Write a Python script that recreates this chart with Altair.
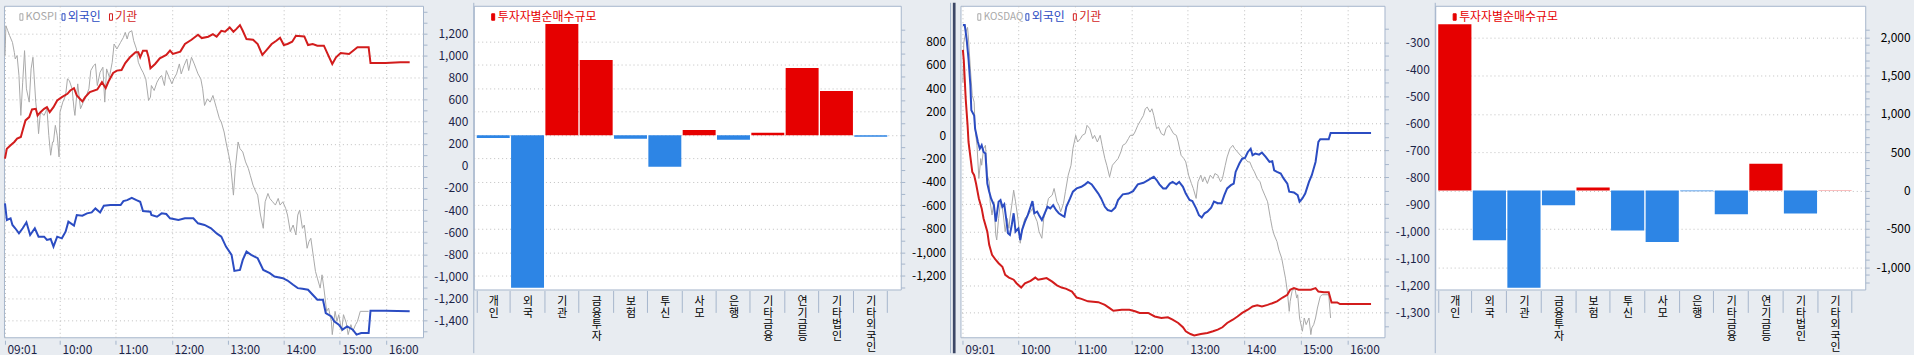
import json
import altair as alt
import pandas as pd

FONT = "Noto Sans CJK KR, DejaVu Sans, sans-serif"
BG = "#E8ECF1"
BORDER = "#A5B5CC"
GRID = "#BEBEBE"
NAVY = "#1C2448"
LINE_RED = "#D21C1C"
LINE_BLUE = "#2B4CC2"
LINE_GREY = "#A8A8A8"
BAR_RED = "#E60000"
BAR_BLUE = "#2D85E5"
DIVIDER = "#3C4766"

# ---------------- data ----------------
# minutes elapsed since 09:01 (compressed after-hours section)
time_tick_values = [0, 59, 119, 179, 239, 299, 359, 409]
time_tick_labels = ["09:01", "10:00", "11:00", "12:00", "13:00", "14:00", "15:00", "16:00"]

kospi_index = [(0,2526.8),(1,2528.6),(3,2528.3),(5,2528.0),(8,2527.6),(10,2527.0),(11,2526.6),(13,2526.8),(15,2525.6),(17,2523.2),(19,2525.2),(21,2527.1),(23,2524.8),(26,2524.0),(28,2526.0),(30,2526.7),(33,2524.0),(35,2523.0),(36,2522.1),(38,2523.4),(42,2523.2),(45,2523.6),(47,2522.0),(49,2520.8),(51,2521.6),(52,2521.6),(54,2522.6),(56,2522.0),(58,2520.7),(59,2523.4),(62,2524.0),(65,2524.4),(67,2525.4),(69,2525.3),(72,2524.8),(74,2523.6),(75,2523.2),(78,2525.1),(81,2523.6),(84,2524.0),(86,2524.2),(90,2524.8),(92,2525.9),(95,2526.2),(97,2526.3),(99,2525.0),(102,2525.8),(105,2526.1),(107,2524.0),(109,2526.0),(112,2525.5),(115,2526.4),(117,2527.5),(120,2527.2),(124,2527.6),(127,2527.9),(129,2528.2),(131,2527.8),(133,2528.2),(136,2528.3),(138,2527.7),(141,2527.2),(143,2526.4),(146,2526.0),(148,2525.8),(151,2525.4),(154,2524.1),(156,2524.3),(157,2525.0),(160,2524.7),(163,2525.2),(166,2525.5),(168,2525.6),(171,2525.0),(173,2525.9),(176,2525.5),(179,2525.1),(181,2525.4),(184,2525.7),(187,2526.3),(189,2525.7),(192,2526.2),(195,2526.6),(197,2525.9),(200,2526.7),(203,2526.3),(205,2526.0),(207,2525.7),(210,2525.4),(212,2524.8),(214,2523.8),(217,2524.2),(220,2524.0),(223,2524.4),(225,2524.0),(227,2523.6),(230,2523.0),(232,2522.8),(235,2522.2),(237,2521.6),(240,2520.8),(242,2520.2),(244,2519.0),(245,2518.4),(247,2520.0),(250,2521.6),(252,2521.2),(255,2521.0),(258,2520.4),(261,2520.0),(263,2519.6),(266,2519.0),(269,2518.6),(271,2518.4),(274,2517.2),(277,2516.4),(279,2518.0),(282,2518.5),(284,2518.2),(287,2518.0),(290,2517.8),(293,2518.2),(295,2517.8),(298,2518.0),(301,2517.6),(303,2517.2),(306,2516.2),(309,2516.6),(312,2516.0),(314,2517.2),(316,2517.5),(319,2516.4),(321,2516.6),(324,2515.2),(326,2515.6),(328,2515.8),(331,2514.6),(333,2513.8),(335,2513.4),(338,2512.8),(340,2513.6),(342,2512.8),(345,2511.4),(347,2511.6),(350,2510.8),(351,2510.0),(354,2511.4),(356,2510.8),(358,2511.2),(361,2510.2),(363,2511.2),(366,2510.7),(368,2510.0),(371,2510.6),(373,2510.2),(376,2510.6),(378,2510.8),(381,2511.4),(385,2511.4),(390,2511.4)]

kospi_foreign = [(0,-340),(2,-490),(6,-475),(8,-535),(11,-565),(15,-611),(19,-565),(23,-511),(27,-626),(32,-565),(36,-641),(42,-641),(45,-671),(49,-662),(52,-731),(56,-641),(61,-656),(65,-596),(68,-505),(74,-541),(77,-445),(83,-451),(88,-430),(93,-421),(97,-385),(102,-421),(106,-361),(113,-355),(124,-355),(127,-319),(131,-310),(136,-289),(141,-310),(145,-325),(148,-409),(156,-415),(157,-445),(163,-460),(168,-430),(173,-436),(177,-475),(186,-490),(193,-475),(202,-475),(207,-520),(214,-535),(221,-565),(227,-611),(232,-641),(237,-731),(243,-806),(246,-951),(252,-942),(255,-851),(259,-776),(264,-806),(271,-836),(277,-942),(284,-972),(289,-1002),(298,-1017),(303,-1038),(309,-1077),(314,-1107),(319,-1113),(325,-1122),(330,-1167),(335,-1212),(341,-1212),(344,-1333),(350,-1363),(353,-1408),(358,-1438),(362,-1483),(367,-1453),(373,-1483),(377,-1528),(382,-1513),(390,-1513),(392,-1311),(408,-1311),(434,-1317)]

kospi_inst = [(0,66),(2,156),(6,186),(10,217),(13,247),(17,262),(19,322),(22,412),(26,442),(29,511),(33,517),(35,457),(38,487),(42,517),(45,532),(48,487),(52,532),(56,593),(61,623),(67,653),(70,683),(74,704),(77,638),(83,584),(86,623),(91,668),(99,692),(104,758),(108,704),(111,764),(116,842),(120,863),(125,869),(129,932),(134,984),(140,1029),(143,1029),(145,984),(148,1044),(152,1044),(154,984),(156,884),(161,923),(166,975),(173,1005),(177,1044),(180,1014),(188,1035),(193,1104),(200,1143),(207,1188),(211,1158),(218,1170),(223,1194),(227,1170),(232,1224),(236,1215),(241,1254),(245,1215),(248,1239),(252,1275),(255,1224),(259,1149),(266,1143),(271,1104),(276,1005),(280,1044),(286,1104),(291,1134),(295,1161),(299,1095),(303,1104),(308,1125),(312,1179),(321,1173),(325,1095),(330,1104),(335,1089),(342,1089),(346,1014),(351,923),(355,984),(360,1023),(369,1014),(378,1074),(390,1074),(392,932),(408,932),(424,938),(434,938)]

kosdaq_index = [(0,875.2),(1,877.6),(3,878.2),(5,878.5),(6,877.8),(8,876.0),(10,874.4),(12,874.0),(13,872.4),(15,871.4),(17,869.4),(19,870.6),(20,870.2),(22,871.2),(24,871.4),(26,869.6),(28,869.2),(29,868.0),(31,867.2),(33,868.0),(35,866.0),(36,865.7),(38,867.0),(40,868.0),(42,867.6),(43,867.2),(45,866.2),(47,867.0),(49,866.4),(50,867.0),(52,867.8),(54,868.7),(56,868.0),(59,866.8),(61,865.5),(63,866.4),(66,867.0),(69,867.2),(72,867.4),(74,867.6),(76,867.2),(79,866.8),(81,866.2),(84,865.8),(86,867.0),(88,867.4),(91,868.2),(95,868.4),(97,868.8),(100,868.0),(102,867.8),(104,867.4),(107,867.9),(109,868.6),(112,869.6),(115,870.2),(117,871.2),(120,872.0),(122,871.6),(125,871.8),(127,872.0),(130,872.1),(132,872.6),(135,872.4),(138,871.8),(140,872.0),(143,871.6),(146,872.0),(148,871.4),(151,870.6),(153,870.2),(156,869.5),(159,870.2),(162,870.4),(165,870.6),(168,871.0),(170,871.4),(173,871.5),(176,871.8),(178,872.0),(181,872.0),(183,872.2),(186,872.6),(189,872.9),(192,873.2),(194,873.6),(196,873.7),(199,873.4),(201,873.6),(203,873.2),(206,872.4),(208,872.5),(211,872.1),(214,872.0),(216,872.4),(219,872.6),(221,872.4),(224,872.1),(227,872.0),(229,871.6),(232,870.8),(235,870.6),(237,870.4),(240,869.6),(243,869.1),(245,868.8),(248,868.2),(250,869.2),(253,869.6),(255,869.2),(257,869.5),(260,869.1),(263,869.6),(266,869.4),(268,869.7),(271,869.6),(274,869.2),(276,869.4),(279,870.2),(281,870.7),(284,871.2),(287,871.4),(289,871.2),(292,871.0),(295,870.8),(297,870.7),(300,870.6),(303,870.4),(305,870.4),(308,870.0),(310,869.8),(313,869.4),(316,869.2),(318,868.8),(321,868.4),(324,868.0),(327,867.0),(329,866.4),(331,866.0),(334,865.6),(336,865.1),(339,864.6),(341,864.0),(343,863.4),(345,862.6),(347,861.4),(348,862.0),(350,862.6),(353,862.8),(355,862.2),(356,862.4),(358,861.0),(361,860.2),(363,861.0),(365,860.6),(368,861.0),(370,860.0),(371,860.4),(373,860.6),(375,861.0),(377,861.6),(380,862.3),(382,862.4),(389,862.4),(391,861.0)]

kosdaq_foreign = [(0,-236),(2,-236),(4,-288),(6,-362),(8,-460),(9,-552),(12,-571),(13,-620),(16,-669),(18,-694),(20,-681),(22,-706),(24,-712),(26,-823),(28,-853),(30,-878),(33,-903),(35,-964),(36,-940),(38,-890),(40,-884),(42,-909),(44,-900),(46,-952),(48,-1007),(50,-1013),(52,-976),(54,-933),(56,-1001),(59,-989),(61,-1032),(63,-995),(66,-964),(69,-940),(72,-909),(74,-888),(76,-933),(79,-927),(81,-940),(84,-958),(87,-933),(90,-909),(93,-915),(96,-903),(99,-921),(102,-933),(105,-940),(108,-946),(110,-909),(114,-878),(117,-853),(121,-841),(126,-835),(130,-826),(133,-817),(137,-826),(140,-841),(144,-860),(147,-878),(151,-909),(154,-921),(158,-925),(162,-912),(165,-884),(170,-863),(176,-860),(181,-851),(186,-826),(192,-820),(197,-810),(200,-804),(203,-798),(206,-810),(209,-826),(213,-841),(216,-841),(220,-823),(223,-817),(227,-826),(230,-817),(234,-835),(237,-860),(241,-884),(244,-888),(248,-915),(251,-940),(254,-949),(257,-933),(260,-927),(264,-912),(267,-890),(271,-896),(275,-896),(278,-866),(281,-841),(285,-829),(288,-823),(290,-780),(294,-749),(297,-731),(300,-728),(303,-706),(306,-694),(308,-718),(311,-712),(315,-716),(318,-708),(322,-724),(326,-743),(329,-740),(331,-774),(334,-780),(338,-786),(341,-804),(345,-823),(347,-853),(352,-856),(356,-866),(358,-890),(361,-878),(364,-860),(368,-817),(371,-792),(375,-743),(378,-669),(380,-659),(389,-659),(391,-636),(401,-636),(434,-636)]

kosdaq_inst = [(0,-328),(1,-368),(3,-509),(5,-607),(6,-669),(8,-724),(10,-780),(12,-792),(14,-823),(17,-878),(20,-915),(22,-952),(26,-1001),(28,-1050),(31,-1087),(35,-1106),(38,-1118),(42,-1131),(45,-1161),(49,-1171),(54,-1179),(57,-1192),(62,-1208),(66,-1192),(72,-1183),(77,-1171),(80,-1179),(84,-1176),(89,-1173),(95,-1186),(100,-1200),(105,-1208),(110,-1213),(116,-1223),(121,-1245),(126,-1250),(133,-1259),(144,-1262),(151,-1272),(156,-1284),(160,-1294),(169,-1290),(177,-1290),(183,-1296),(188,-1302),(197,-1302),(204,-1315),(211,-1321),(218,-1318),(223,-1327),(229,-1339),(234,-1355),(237,-1370),(242,-1380),(246,-1385),(253,-1380),(260,-1376),(266,-1370),(271,-1364),(276,-1355),(281,-1339),(287,-1327),(292,-1315),(297,-1302),(303,-1290),(308,-1278),(313,-1274),(318,-1278),(324,-1272),(329,-1266),(334,-1259),(340,-1245),(345,-1235),(348,-1216),(352,-1210),(357,-1216),(363,-1216),(370,-1216),(375,-1210),(378,-1223),(384,-1225),(389,-1225),(392,-1263),(398,-1263),(401,-1269),(434,-1269)]

investor_types = ["개인", "외국", "기관", "금융투자", "보험", "투신", "사모", "은행",
                  "기타금융", "연기금등", "기타법인", "기타외국인"]
kospi_net_buy = [-25, -1305, 950, 642, -31, -270, 45, -40, 20, 574, 378, -14]
kosdaq_net_buy = [2169, -649, -1268, -190, 39, -520, -671, -8, -307, 351, -299, 5]

ONE = pd.DataFrame({"k": [0]})


def time_axis():
    expr = f"{json.dumps(time_tick_labels)}[indexof({json.dumps(time_tick_values)}, datum.value)]"
    return alt.Axis(
        orient="bottom", values=time_tick_values, labelExpr=expr, title=None,
        offset=3, domain=False, tickSize=4, tickColor=BORDER,
        grid=True, gridDash=[1, 3], gridColor=GRID,
        labelAlign="left", labelBaseline="top", labelPadding=0, labelOffset=2,
        labelFont=FONT, labelFontSize=12, labelColor=NAVY,
        labelFlush=False, labelOverlap=False, minExtent=16, maxExtent=16)


def value_axis(ticks, major, color, extent):
    return alt.Axis(
        orient="right", values=ticks, title=None,
        labelExpr=f"({major}) ? replace(format(datum.value, ','), '\u2212', '-') : ''",
        grid=True, gridDash=[1, 3], gridColor=GRID,
        gridOpacity={"condition": {"test": major, "value": 1}, "value": 0},
        domain=False, tickSize=4, tickColor=BORDER,
        labelAlign="right", labelBaseline="middle", labelPadding=41,
        labelFont=FONT, labelFontSize=12, labelColor=color,
        labelOverlap=False, labelFlush=False, minExtent=extent, maxExtent=extent)


def legend_marker(color, x, filled):
    return alt.Chart(ONE).mark_rect(
        fill=color if filled else "white", stroke=color, strokeWidth=1).encode(
        x=alt.value(x), x2=alt.value(x + 3), y=alt.value(8), y2=alt.value(14.5))


def legend_text(text, color, x, size=12):
    return alt.Chart(ONE).mark_text(
        text=text, color=color, font=FONT, fontSize=size, align="left",
        baseline="middle").encode(x=alt.value(x), y=alt.value(11.5))


def line_panel(index_name, index_pts, index_domain, foreign_pts, inst_pts, y_domain,
               y_ticks, major, x_domain, width, marker_x, text_x, name_size, extra):
    idx_df = pd.DataFrame(index_pts, columns=["t", "v"])
    flow_df = pd.concat([
        pd.DataFrame(foreign_pts, columns=["t", "v"]).assign(s="외국인"),
        pd.DataFrame(inst_pts, columns=["t", "v"]).assign(s="기관"),
    ], ignore_index=True)
    x_enc = alt.X("t:Q", scale=alt.Scale(domain=x_domain, nice=False, zero=False), axis=time_axis())
    grey = alt.Chart(idx_df).mark_line(color=LINE_GREY, strokeWidth=1).encode(
        x=x_enc,
        y=alt.Y("v:Q", scale=alt.Scale(domain=index_domain, nice=False, zero=False), axis=None))
    flows = alt.Chart(flow_df).mark_line(strokeWidth=2).encode(
        x=x_enc,
        y=alt.Y("v:Q", scale=alt.Scale(domain=y_domain, nice=False, zero=False),
                axis=value_axis(y_ticks, major, NAVY, 49)),
        color=alt.Color("s:N", scale=alt.Scale(domain=["외국인", "기관"], range=[LINE_BLUE, LINE_RED]),
                        legend=None))
    names = [index_name, "외국인", "기관"]
    sizes = [name_size, 12, 12]
    colors = [LINE_GREY, LINE_BLUE, LINE_RED]
    legend = []
    for n, c, mx, tx, sz in zip(names, colors, marker_x, text_x, sizes):
        legend.append(legend_marker(c, mx, False))
        legend.append(legend_text(n, c, tx, sz))
    return alt.layer(grey, flows, *legend, *extra).resolve_scale(y="independent").properties(
        width=width, height=333)


def bar_panel(values, y_domain, y_ticks, major, width, extent):
    df = pd.DataFrame({"cat": investor_types, "value": values})
    cat_axis = alt.Axis(
        orient="bottom", title=None, labelAngle=0, labelExpr="split(datum.label, '')",
        tickBand="extent", tickSize=22, tickColor=BORDER, domain=False, offset=1, grid=False,
        labelAlign="center", labelBaseline="top", labelPadding=-17, labelLineHeight=11.7,
        labelFont=FONT, labelFontSize=11, labelColor="black", labelOverlap=False,
        minExtent=64, maxExtent=64)
    bars = alt.Chart(df).mark_bar().encode(
        x=alt.X("cat:N", sort=investor_types,
                scale=alt.Scale(paddingInner=0.04, paddingOuter=0.24, align=0.18), axis=cat_axis),
        y=alt.Y("value:Q", scale=alt.Scale(domain=y_domain, nice=False, zero=False),
                axis=value_axis(y_ticks, major, "black", extent)),
        color=alt.condition(alt.datum.value > 0, alt.value(BAR_RED), alt.value(BAR_BLUE)))
    marker = legend_marker(BAR_RED, 18, True)
    title = legend_text("투자자별순매수규모", BAR_RED, 24)
    edge = alt.Chart(ONE).mark_rule(color=BORDER, strokeWidth=1).encode(
        x=alt.value(0), y=alt.value(-3), y2=alt.value(349))
    return alt.layer(bars, marker, title, edge).properties(width=width, height=285)


edge1 = alt.Chart(ONE).mark_rule(color=BORDER, opacity=0).encode(
    x=alt.value(0), y=alt.value(-3), y2=alt.value(349))
divider_light = alt.Chart(ONE).mark_rule(color=BORDER, strokeWidth=1).encode(
    x=alt.value(-10), y=alt.value(-3), y2=alt.value(349))
divider = alt.Chart(ONE).mark_rule(color=DIVIDER, strokeWidth=2.7).encode(
    x=alt.value(-6.3), y=alt.value(-3), y2=alt.value(349))

p1 = line_panel("KOSPI", kospi_index, [2509.84, 2529.8], kospi_foreign, kospi_inst,
                [-1552, 1450], list(range(-1500, 1500, 100)),
                "datum.value % 200 === 0 && datum.value <= 1200",
                [-1.07, 448.3], 421, [16, 58.3, 106], [21.7, 64, 111.7], 11, [edge1])
p2 = bar_panel(kospi_net_buy, [-1319, 1106], list(range(-1300, 1000, 100)),
               "datum.value % 200 === 0 && datum.value <= 800", 429, 48)
p3 = line_panel("KOSDAQ", kosdaq_index, [859.84, 879.8], kosdaq_foreign, kosdaq_inst,
                [-1392, -165], list(range(-1350, -200, 50)),
                "datum.value % 100 === 0 && datum.value <= -300 && datum.value >= -1300",
                [-2.54, 448.3], 426, [17.4, 65.7, 113.4], [23.4, 71.7, 119.4], 10,
                [divider_light, divider])
p4 = bar_panel(kosdaq_net_buy, [-1290, 2411], list(range(-1200, 2200, 100)),
               "datum.value % 500 === 0 && datum.value <= 2000", 432, 48)

chart = alt.hconcat(p1, p2, p3, p4, spacing=0).properties(
    background=BG, padding=0
).configure_view(fill="white", stroke=BORDER, strokeWidth=1)

chart.save("out.html", embed_options={"renderer": "svg", "actions": False})
